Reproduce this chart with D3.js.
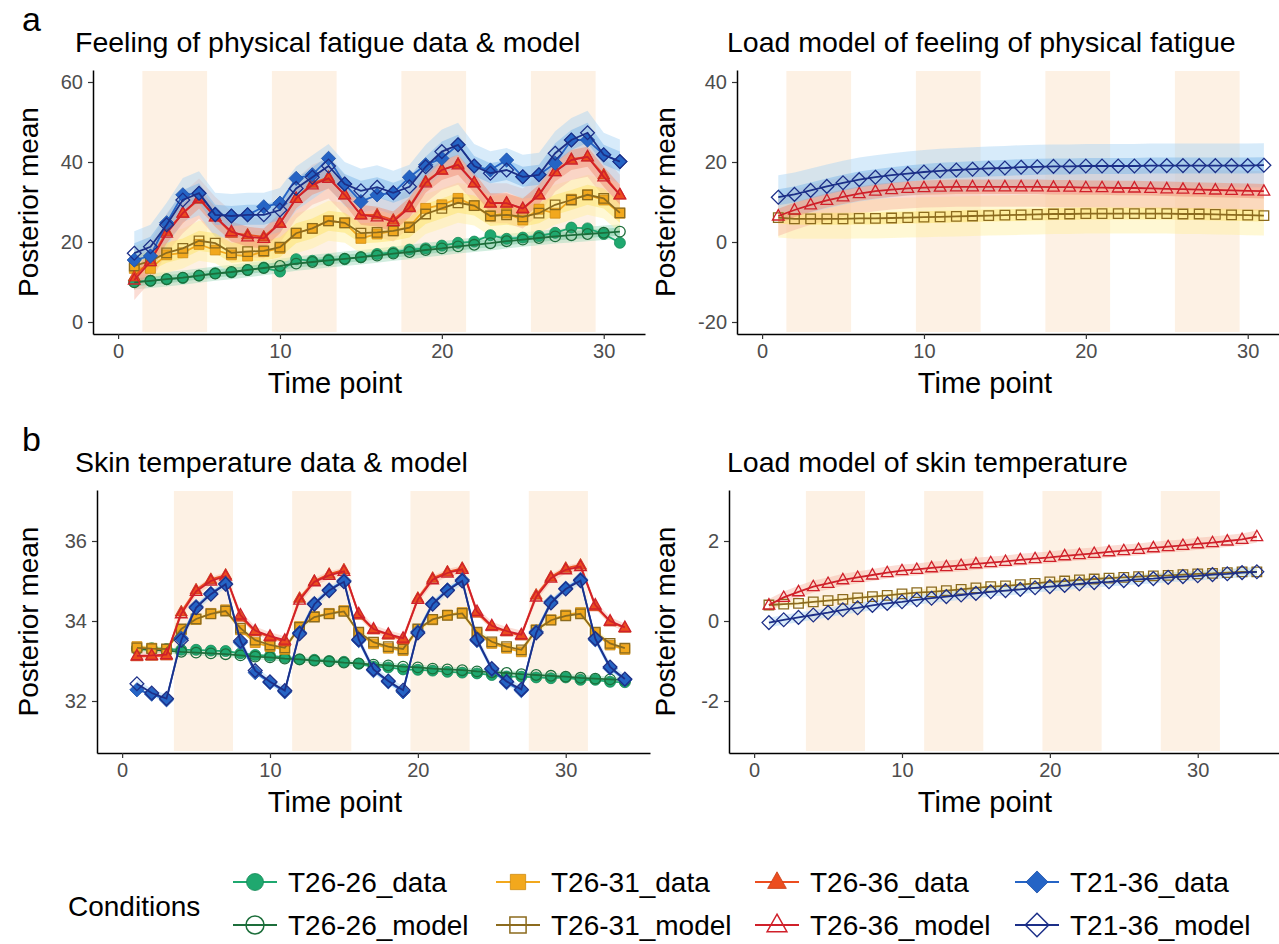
<!DOCTYPE html>
<html>
  <head>
    <meta charset="utf-8">
    <title>Posterior mean</title>
    <script src="https://cdn.jsdelivr.net/npm/d3@7"></script>
    <style>
      body { margin: 0; background: #fff; }
      svg { font-family: "Liberation Sans", Arial, Helvetica, sans-serif; }
    </style>
  </head>
  <body>
    <svg id="chart" width="1279" height="944"></svg>

    <script>
      // conditions, in drawing order
      var conditions = ["T26-26", "T26-31", "T26-36", "T21-36"];
      var shapes = ["circle", "square", "triangle", "diamond"];
      var xTicks = [0, 10, 20, 30];

      // a: feeling of physical fatigue, time points 1..31
      var fatigueDataT2626 = [10.1, 10.3, 10.7, 11.0, 11.6, 12.2, 12.4, 13.0, 13.6, 12.6, 15.7, 15.3, 15.6, 15.7, 16.2, 17.0, 17.4, 18.1, 18.4, 19.1, 19.8, 20.1, 21.7, 20.8, 21.1, 21.5, 22.3, 23.6, 23.4, 22.0, 19.8];
      var fatigueModelT2626 = [9.9, 10.3, 10.7, 11.1, 11.6, 12.1, 12.5, 13.0, 13.5, 14.0, 14.6, 15.0, 15.4, 15.8, 16.2, 16.6, 17.1, 17.5, 18.0, 18.4, 18.9, 19.3, 19.7, 20.2, 20.6, 21.0, 21.4, 21.7, 22.0, 22.3, 22.6];
      var fatigueDataT2631 = [13.4, 13.4, 16.8, 17.3, 19.4, 18.0, 16.8, 16.5, 17.6, 18.4, 22.2, 23.4, 25.3, 24.8, 20.9, 22.0, 22.8, 23.8, 28.4, 29.3, 30.9, 29.1, 26.5, 27.2, 25.5, 28.2, 27.2, 30.7, 31.8, 30.5, 27.2];
      var fatigueModelT2631 = [14.0, 15.3, 17.3, 18.4, 20.3, 19.7, 17.3, 17.6, 17.8, 18.7, 22.2, 23.4, 25.3, 24.8, 22.2, 22.4, 22.8, 23.6, 27.0, 28.4, 29.8, 29.1, 26.5, 26.8, 26.3, 27.2, 29.3, 30.5, 31.8, 30.9, 27.3];
      var fatigueDataT2636 = [11.3, 15.5, 22.6, 27.2, 30.7, 26.3, 22.2, 21.8, 21.3, 24.7, 30.9, 34.7, 36.2, 31.8, 26.8, 26.8, 25.5, 28.9, 35.1, 38.0, 39.5, 34.8, 29.8, 29.8, 28.2, 31.8, 37.6, 40.7, 41.3, 36.8, 31.8];
      var fatigueModelT2636 = [10.5, 15.1, 22.2, 27.2, 30.9, 26.3, 22.6, 21.3, 20.9, 24.7, 30.9, 34.3, 35.9, 31.8, 26.8, 26.3, 25.1, 28.6, 34.8, 38.0, 39.3, 34.8, 29.7, 29.7, 28.4, 31.8, 37.6, 40.5, 41.3, 36.3, 31.8];
      var fatigueDataT2136 = [15.5, 16.5, 24.8, 31.8, 32.2, 27.0, 26.5, 26.8, 28.8, 29.7, 35.9, 36.8, 40.9, 34.5, 30.1, 31.8, 32.3, 36.2, 39.3, 40.9, 44.3, 39.0, 38.0, 40.5, 36.3, 36.8, 39.7, 45.5, 45.5, 41.8, 40.1];
      var fatigueModelT2136 = [17.2, 18.8, 24.3, 30.5, 32.2, 26.8, 26.5, 26.8, 26.8, 28.0, 33.4, 36.2, 39.0, 34.5, 32.8, 33.7, 32.3, 33.8, 38.8, 42.6, 44.3, 39.0, 37.2, 38.0, 36.3, 36.8, 42.2, 45.5, 47.3, 41.8, 40.1];

      // a: load model of fatigue (no T26-26)
      var fatigueLoadT2631 = [6.1, 5.8, 5.8, 5.8, 5.8, 5.9, 5.9, 6.0, 6.1, 6.2, 6.3, 6.4, 6.5, 6.6, 6.7, 6.8, 6.9, 7.0, 7.0, 7.1, 7.1, 7.1, 7.1, 7.1, 7.1, 7.0, 7.0, 6.9, 6.8, 6.7, 6.6];
      var fatigueLoadT2636 = [6.5, 8.0, 9.3, 10.4, 11.3, 12.1, 12.7, 13.1, 13.4, 13.6, 13.7, 13.8, 13.8, 13.8, 13.8, 13.8, 13.8, 13.7, 13.7, 13.6, 13.6, 13.5, 13.5, 13.4, 13.3, 13.2, 13.1, 13.0, 12.9, 12.8, 12.7];
      var fatigueLoadT2136 = [11.2, 11.9, 12.9, 13.9, 14.8, 15.6, 16.2, 16.7, 17.1, 17.5, 17.8, 18.0, 18.2, 18.4, 18.5, 18.7, 18.8, 18.9, 18.9, 19.0, 19.0, 19.0, 19.0, 19.1, 19.1, 19.1, 19.1, 19.1, 19.1, 19.1, 19.2];

      // b: skin temperature, time points 1..34
      var skinDataT2626 = [33.32, 33.32, 33.30, 33.28, 33.28, 33.26, 33.25, 33.19, 33.15, 33.13, 33.09, 33.04, 33.03, 33.00, 32.98, 32.93, 32.86, 32.84, 32.79, 32.78, 32.76, 32.73, 32.71, 32.69, 32.65, 32.61, 32.61, 32.59, 32.57, 32.59, 32.53, 32.53, 32.48, 32.47];
      var skinModelT2626 = [33.30, 33.28, 33.26, 33.23, 33.21, 33.19, 33.17, 33.14, 33.11, 33.09, 33.06, 33.04, 33.01, 32.99, 32.96, 32.94, 32.91, 32.89, 32.86, 32.84, 32.81, 32.79, 32.77, 32.74, 32.72, 32.70, 32.67, 32.65, 32.63, 32.61, 32.58, 32.56, 32.54, 32.52];
      var skinDataT2631 = [33.36, 33.32, 33.29, 33.78, 34.04, 34.19, 34.28, 33.78, 33.46, 33.36, 33.29, 33.86, 34.11, 34.19, 34.26, 33.69, 33.43, 33.32, 33.26, 33.79, 34.03, 34.15, 34.21, 33.69, 33.44, 33.32, 33.23, 33.78, 34.03, 34.15, 34.21, 33.69, 33.40, 33.29];
      var skinModelT2631 = [33.33, 33.31, 33.30, 33.80, 34.05, 34.18, 34.25, 33.82, 33.52, 33.40, 33.33, 33.84, 34.10, 34.18, 34.24, 33.72, 33.47, 33.36, 33.30, 33.80, 34.04, 34.14, 34.19, 33.72, 33.48, 33.36, 33.28, 33.77, 34.02, 34.13, 34.18, 33.72, 33.44, 33.32];
      var skinDataT2636 = [33.11, 33.12, 33.13, 34.23, 34.78, 35.04, 35.15, 34.10, 33.73, 33.60, 33.48, 34.57, 35.00, 35.17, 35.28, 34.15, 33.78, 33.65, 33.53, 34.57, 35.07, 35.23, 35.32, 34.20, 33.86, 33.73, 33.63, 34.65, 35.10, 35.32, 35.40, 34.36, 33.98, 33.82];
      var skinModelT2636 = [33.13, 33.14, 33.16, 34.18, 34.74, 35.00, 35.12, 34.15, 33.76, 33.62, 33.52, 34.52, 34.98, 35.14, 35.24, 34.18, 33.80, 33.67, 33.57, 34.54, 35.03, 35.20, 35.29, 34.24, 33.88, 33.75, 33.66, 34.60, 35.07, 35.28, 35.36, 34.40, 34.00, 33.84];
      var skinDataT2136 = [32.28, 32.17, 32.03, 33.57, 34.36, 34.69, 34.94, 33.46, 32.71, 32.46, 32.23, 33.71, 34.44, 34.78, 35.01, 33.51, 32.76, 32.48, 32.23, 33.73, 34.44, 34.78, 35.03, 33.51, 32.78, 32.46, 32.26, 33.73, 34.48, 34.82, 35.04, 33.53, 32.82, 32.53];
      var skinModelT2136 = [32.43, 32.20, 32.06, 33.52, 34.33, 34.67, 34.92, 33.50, 32.76, 32.48, 32.26, 33.68, 34.42, 34.76, 34.98, 33.54, 32.79, 32.50, 32.27, 33.70, 34.42, 34.76, 35.00, 33.54, 32.81, 32.49, 32.29, 33.70, 34.45, 34.80, 35.01, 33.56, 32.85, 32.55];

      // b: load model of skin temperature (no T26-26)
      var skinLoadT2631 = [0.40, 0.42, 0.44, 0.48, 0.51, 0.54, 0.58, 0.61, 0.64, 0.68, 0.71, 0.73, 0.76, 0.79, 0.83, 0.86, 0.88, 0.91, 0.94, 0.98, 1.00, 1.03, 1.05, 1.07, 1.09, 1.11, 1.13, 1.14, 1.16, 1.18, 1.19, 1.21, 1.23, 1.23];
      var skinLoadT2636 = [0.40, 0.59, 0.73, 0.86, 0.94, 1.03, 1.09, 1.15, 1.21, 1.26, 1.29, 1.33, 1.36, 1.39, 1.43, 1.46, 1.49, 1.53, 1.56, 1.59, 1.63, 1.66, 1.69, 1.73, 1.76, 1.79, 1.83, 1.86, 1.89, 1.93, 1.96, 2.00, 2.04, 2.11];
      var skinLoadT2136 = [-0.04, 0.03, 0.09, 0.15, 0.21, 0.28, 0.33, 0.39, 0.44, 0.48, 0.53, 0.57, 0.61, 0.65, 0.69, 0.73, 0.76, 0.79, 0.83, 0.86, 0.89, 0.93, 0.96, 0.98, 1.01, 1.04, 1.06, 1.09, 1.11, 1.13, 1.16, 1.18, 1.21, 1.23];

      var fatigueOuterHalf = [1.8, 5.0, 5.0, 5.5];
      var fatigueInnerHalf = [1.0, 2.5, 2.5, 2.5];
      var fatigueLoadOuterHalf = [0, 5.0, 5.0, 5.5];
      var fatigueLoadInnerHalf = [0, 1.5, 1.8, 2.0];
      var skinOuterHalf = [0.07, 0.08, 0.1, 0.1];
      var skinLoadOuterHalf = [0, 0.08, 0.15, 0.12];

      // heat exposure blocks
      var fatigueBlocks = [[1.5, 5.5], [9.5, 13.5], [17.5, 21.5], [25.5, 29.5]];
      var skinBlocks = [[3.5, 7.5], [11.5, 15.5], [19.5, 23.5], [27.5, 31.5]];

      // colours
      var dataFill = ["#1fa86f", "#f2a81d", "#ec4d1f", "#2564c5"];
      var dataStroke = ["#178a58", "#cf8c12", "#c63c14", "#1a4ea6"];
      var modelColour = ["#1d6e3b", "#8c6b1e", "#d0202a", "#1c2f88"];
      var outerBand = ["#98d8b8", "#fff0a0", "#f6b4a2", "#a6d2f3"];
      var innerBand = ["#7cc9a3", "#fde46a", "#f08f76", "#7db8ea"];

      var svg = d3.select("#chart");

      function shapePath(shape, r) {
        if (shape == "circle") return "M" + r + ",0A" + r + "," + r + " 0 1,1 " + (-r) + ",0A" + r + "," + r + " 0 1,1 " + r + ",0Z";
        if (shape == "square") { var s = r * 0.9; return "M" + (-s) + "," + (-s) + "H" + s + "V" + s + "H" + (-s) + "Z"; }
        if (shape == "triangle") return "M0," + (-1.2 * r) + "L" + (1.1 * r) + "," + (0.75 * r) + "L" + (-1.1 * r) + "," + (0.75 * r) + "Z";
        var d = r * 1.3;
        return "M0," + (-d) + "L" + d + ",0L0," + d + "L" + (-d) + ",0Z";
      }

      var panels = [
        { letter: "a", title: "Feeling of physical fatigue data & model", titleX: 75, titleY: 52,
          left: 93, right: 645, top: 70, bottom: 334, xDomain: [-1.55, 32.55], yDomain: [-3, 63],
          yTicks: [0, 20, 40, 60], blocks: fatigueBlocks, n: 31, xTitle: 335, yTitle: 28,
          data: [fatigueDataT2626, fatigueDataT2631, fatigueDataT2636, fatigueDataT2136],
          model: [fatigueModelT2626, fatigueModelT2631, fatigueModelT2636, fatigueModelT2136],
          outer: fatigueOuterHalf, inner: fatigueInnerHalf },
        { title: "Load model of feeling of physical fatigue", titleX: 727, titleY: 52,
          left: 737, right: 1289, top: 70, bottom: 334, xDomain: [-1.55, 32.55], yDomain: [-23, 43],
          yTicks: [-20, 0, 20, 40], blocks: fatigueBlocks, n: 31, xTitle: 985, yTitle: 665,
          data: [null, null, null, null],
          model: [null, fatigueLoadT2631, fatigueLoadT2636, fatigueLoadT2136],
          outer: fatigueLoadOuterHalf, inner: fatigueLoadInnerHalf },
        { letter: "b", title: "Skin temperature data & model", titleX: 75, titleY: 472,
          left: 97, right: 650, top: 490, bottom: 753, xDomain: [-1.7, 35.7], yDomain: [30.7, 37.275],
          yTicks: [32, 34, 36], blocks: skinBlocks, n: 34, xTitle: 335, yTitle: 28,
          data: [skinDataT2626, skinDataT2631, skinDataT2636, skinDataT2136],
          model: [skinModelT2626, skinModelT2631, skinModelT2636, skinModelT2136],
          outer: skinOuterHalf, inner: null },
        { title: "Load model of skin temperature", titleX: 727, titleY: 472,
          left: 729, right: 1282, top: 490, bottom: 753, xDomain: [-1.7, 35.7], yDomain: [-3.3, 3.275],
          yTicks: [-2, 0, 2], blocks: skinBlocks, n: 34, xTitle: 985, yTitle: 665,
          data: [null, null, null, null],
          model: [null, skinLoadT2631, skinLoadT2636, skinLoadT2136],
          outer: skinLoadOuterHalf, inner: null }
      ];

      panels.forEach(function(p) {
        var x = d3.scaleLinear().domain(p.xDomain).range([p.left, p.right]);
        var y = d3.scaleLinear().domain(p.yDomain).range([p.bottom, p.top]);
        var times = d3.range(1, p.n + 1);
        var g = svg.append("g");

        // shaded blocks
        g.selectAll(".block")
          .data(p.blocks)
          .enter().append("rect")
            .attr("x", function(d) { return x(d[0]); })
            .attr("width", function(d) { return x(d[1]) - x(d[0]); })
            .attr("y", p.top + 1)
            .attr("height", p.bottom - p.top - 3)
            .style("fill", "#fdf1e4");

        // ribbons round the model
        [p.outer, p.inner].forEach(function(half, k) {
          if (!half) return;
          p.model.forEach(function(vals, i) {
            if (!vals || !half[i]) return;
            var area = d3.area()
              .x(function(d, j) { return x(times[j]); })
              .y0(function(d) { return y(d - half[i]); })
              .y1(function(d) { return y(d + half[i]); });
            g.append("path")
              .attr("d", area(vals))
              .style("fill", k == 0 ? outerBand[i] : innerBand[i])
              .style("opacity", k == 0 ? 0.45 : 0.5);
          });
        });

        var line = d3.line()
          .x(function(d, j) { return x(times[j]); })
          .y(function(d) { return y(d); });

        // lines and points, one condition at a time
        conditions.forEach(function(c, i) {
          if (p.data[i]) {
            g.append("path")
              .attr("d", line(p.data[i]))
              .style("fill", "none")
              .style("stroke", dataFill[i])
              .style("stroke-width", 1.8);
            g.selectAll(".pt" + i)
              .data(p.data[i])
              .enter().append("path")
                .attr("transform", function(d, j) { return "translate(" + x(times[j]) + "," + y(d) + ")"; })
                .attr("d", shapePath(shapes[i], 5.5))
                .style("fill", dataFill[i])
                .style("stroke", dataStroke[i])
                .style("stroke-width", 0.8);
          }
          if (p.model[i]) {
            g.append("path")
              .attr("d", line(p.model[i]))
              .style("fill", "none")
              .style("stroke", modelColour[i])
              .style("stroke-width", 1.8);
            g.selectAll(".md" + i)
              .data(p.model[i])
              .enter().append("path")
                .attr("transform", function(d, j) { return "translate(" + x(times[j]) + "," + y(d) + ")"; })
                .attr("d", shapePath(shapes[i], 5.3))
                .style("fill", "none")
                .style("stroke", modelColour[i])
                .style("stroke-width", 1.3);
          }
        });

        // axes
        var xAxis = g.append("g")
          .attr("transform", "translate(0," + p.bottom + ")")
          .call(d3.axisBottom(x).tickValues(xTicks).tickFormat(String).tickSize(5).tickSizeOuter(0).tickPadding(5));
        var yAxis = g.append("g")
          .attr("transform", "translate(" + p.left + ",0)")
          .call(d3.axisLeft(y).tickValues(p.yTicks).tickFormat(String).tickSize(5).tickSizeOuter(0).tickPadding(5));
        [xAxis, yAxis].forEach(function(a) {
          a.select(".domain").style("stroke", "#000").style("stroke-width", 1.5);
          a.selectAll(".tick line").style("stroke", "#333").style("stroke-width", 1.2);
          a.selectAll(".tick text")
            .style("font-size", "20px")
            .style("fill", "#4d4d4d")
            .style("font-family", "Liberation Sans, Arial, sans-serif");
        });

        // titles
        g.append("text")
          .attr("x", p.titleX)
          .attr("y", p.titleY)
          .style("font-size", "28.5px")
          .text(p.title);
        if (p.letter) {
          g.append("text")
            .attr("x", 22)
            .attr("y", p.titleY - 21)
            .style("font-size", "34px")
            .text(p.letter);
        }
        g.append("text")
          .attr("x", p.xTitle)
          .attr("y", p.bottom + 59)
          .attr("text-anchor", "middle")
          .style("font-size", "29px")
          .text("Time point");
        g.append("text")
          .attr("transform", "translate(" + (p.yTitle + 10) + "," + ((p.top + p.bottom) / 2) + ") rotate(-90)")
          .attr("text-anchor", "middle")
          .style("font-size", "28px")
          .text("Posterior mean");
      });

      // legend
      var legend = svg.append("g");
      var legendRows = [882, 925];
      var legendKeys = [255, 518, 777, 1037];
      legend.append("text")
        .attr("x", 68)
        .attr("y", 906)
        .attr("dy", "0.35em")
        .style("font-size", "28px")
        .text("Conditions");
      conditions.forEach(function(c, i) {
        [0, 1].forEach(function(row) {
          var cx = legendKeys[i], cy = legendRows[row];
          var colour = row == 0 ? dataFill[i] : modelColour[i];
          legend.append("line")
            .attr("x1", cx - 22).attr("x2", cx + 22)
            .attr("y1", cy).attr("y2", cy)
            .style("stroke", colour)
            .style("stroke-width", 2);
          legend.append("path")
            .attr("transform", "translate(" + cx + "," + cy + ")")
            .attr("d", shapePath(shapes[i], row == 0 ? 8.5 : 9))
            .style("fill", row == 0 ? dataFill[i] : "none")
            .style("stroke", row == 0 ? dataStroke[i] : modelColour[i])
            .style("stroke-width", row == 0 ? 0.8 : 1.5);
          legend.append("text")
            .attr("x", cx + 33)
            .attr("y", cy)
            .attr("dy", "0.35em")
            .style("font-size", "28px")
            .text(c + (row == 0 ? "_data" : "_model"));
        });
      });
    </script>
  </body>
</html>
